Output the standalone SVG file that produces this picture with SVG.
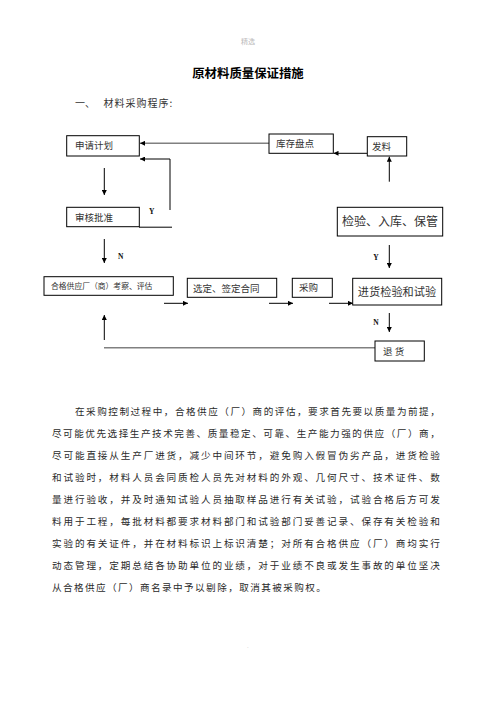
<svg xmlns="http://www.w3.org/2000/svg" width="496" height="702" viewBox="0 0 496 702">
<defs>
<marker id="ah" viewBox="0 0 10 10" refX="10" refY="5" markerWidth="5" markerHeight="5" markerUnits="userSpaceOnUse" orient="auto">
<path d="M0,0 L10,5 L0,10 z" fill="#000"/>
</marker>
</defs>
<style>
text{font-family:"Noto Sans CJK SC","Noto Sans CJK JP",sans-serif;fill:#333}
.box{fill:#fff;stroke:#000;stroke-width:1}
.c{fill:none;stroke:#000;stroke-width:1}
.g{fill:none;stroke:#808080;stroke-width:1.6}
.lbl{font-size:9.5px}
.yn{font-family:"Liberation Serif",serif;font-size:7.5px;font-weight:bold;fill:#111}
.p{font-size:9.6px;letter-spacing:1.2px;fill:#2a2a2a}
</style>
<rect width="496" height="702" fill="#fff"/>
<text x="248" y="44" text-anchor="middle" style="font-size:7px;fill:#bbb">精选</text>
<text x="248" y="77.5" text-anchor="middle" style="font-size:12.4px;font-weight:bold;fill:#000">原材料质量保证措施</text>
<text x="75" y="107" style="font-size:10px">一、</text>
<text x="103.5" y="107" style="font-size:10px;letter-spacing:1px">材料采购程序:</text>

<g id="connectors">
<line class="g" x1="269" y1="143.3" x2="140" y2="143.3" marker-end="url(#ah)"/>
<path class="c" d="M170,210 V159 H140" marker-end="url(#ah)"/>
<line class="c" x1="139" y1="227.2" x2="172" y2="227.2"/>
<line class="c" x1="104.3" y1="168" x2="104.3" y2="195" marker-end="url(#ah)"/>
<line class="c" x1="104.3" y1="239" x2="104.3" y2="263" marker-end="url(#ah)"/>
<line class="c" x1="164" y1="303.3" x2="188" y2="303.3" marker-end="url(#ah)"/>
<line class="c" x1="269" y1="303.3" x2="293" y2="303.3" marker-end="url(#ah)"/>
<line class="c" x1="329" y1="303.3" x2="353" y2="303.3" marker-end="url(#ah)"/>
<line class="c" x1="104.3" y1="340" x2="104.3" y2="315" marker-end="url(#ah)"/>
<line class="g" x1="104" y1="347.7" x2="375" y2="347.7"/>
<line class="c" x1="389.3" y1="181.7" x2="389.3" y2="156.7" marker-end="url(#ah)"/>
<line class="c" x1="367" y1="153.3" x2="333.5" y2="153.3" marker-end="url(#ah)"/>
<line class="c" x1="389.3" y1="245" x2="389.3" y2="268" marker-end="url(#ah)"/>
<line class="c" x1="389.3" y1="313" x2="389.3" y2="332" marker-end="url(#ah)"/>
<text class="yn" x="151.7" y="213.5" text-anchor="middle">Y</text>
<text class="yn" x="120.7" y="258.8" text-anchor="middle">N</text>
<text class="yn" x="376" y="259.8" text-anchor="middle">Y</text>
<text class="yn" x="376" y="324.5" text-anchor="middle">N</text>
</g>

<g id="n-plan"><rect class="box" x="66.7" y="135.7" width="72.6" height="20.3"/><text class="lbl" x="75" y="149.3">申请计划</text></g>
<g id="n-approve"><rect class="box" x="66.7" y="207.3" width="72.6" height="19.4"/><text class="lbl" x="75" y="220.5">审核批准</text></g>
<g id="n-stock"><rect class="box" x="269" y="134" width="64.3" height="19.3"/><text class="lbl" x="276" y="147.3">库存盘点</text></g>
<g id="n-issue"><rect class="box" x="367.3" y="136.7" width="39.4" height="19.3"/><text class="lbl" x="372" y="150">发料</text></g>
<g id="n-store"><rect class="box" x="337.3" y="207.3" width="105.4" height="28.7"/><text x="390" y="226" text-anchor="middle" style="font-size:12px">检验、入库、保管</text></g>
<g id="n-supplier"><rect class="box" x="44" y="276.7" width="129.3" height="18.6"/><text x="51" y="288.8" style="font-size:7.8px">合格供应厂（商）考察、评估</text></g>
<g id="n-contract"><rect class="box" x="187.3" y="278.3" width="89.4" height="19"/><text class="lbl" x="193" y="291.5">选定、签定合同</text></g>
<g id="n-purchase"><rect class="box" x="292.3" y="278.3" width="40" height="19"/><text class="lbl" x="299" y="291">采购</text></g>
<g id="n-inspect"><rect class="box" x="352.7" y="278.3" width="89" height="26.7"/><text x="397" y="295.5" text-anchor="middle" style="font-size:11.2px">进货检验和试验</text></g>
<g id="n-return"><rect class="box" x="375" y="341" width="49.3" height="20"/><text class="lbl" x="383" y="354.5" xml:space="preserve">退 货</text></g>

<g id="paragraph">
<text class="p" x="75" y="414.5" textLength="366" lengthAdjust="spacing">在采购控制过程中，合格供应（厂）商的评估，要求首先要以质量为前提，</text>
<text class="p" x="52" y="436.5" textLength="389" lengthAdjust="spacing">尽可能优先选择生产技术完善、质量稳定、可靠、生产能力强的供应（厂）商，</text>
<text class="p" x="52" y="458.5" textLength="389" lengthAdjust="spacing">尽可能直接从生产厂进货，减少中间环节，避免购入假冒伪劣产品，进货检验</text>
<text class="p" x="52" y="480.5" textLength="389" lengthAdjust="spacing">和试验时，材料人员会同质检人员先对材料的外观、几何尺寸、技术证件、数</text>
<text class="p" x="52" y="502.5" textLength="389" lengthAdjust="spacing">量进行验收，并及时通知试验人员抽取样品进行有关试验，试验合格后方可发</text>
<text class="p" x="52" y="524.5" textLength="389" lengthAdjust="spacing">料用于工程，每批材料都要求材料部门和试验部门妥善记录、保存有关检验和</text>
<text class="p" x="52" y="546.5" textLength="389" lengthAdjust="spacing">实验的有关证件，并在材料标识上标识清楚；对所有合格供应（厂）商均实行</text>
<text class="p" x="52" y="568.5" textLength="389" lengthAdjust="spacing">动态管理，定期总结各协助单位的业绩，对于业绩不良或发生事故的单位坚决</text>
<text class="p" x="52" y="590.5" textLength="275" lengthAdjust="spacing">从合格供应（厂）商名录中予以剔除，取消其被采购权。</text>
</g>
<text x="247" y="648" style="font-size:6px;fill:#ccc">.</text>
</svg>
